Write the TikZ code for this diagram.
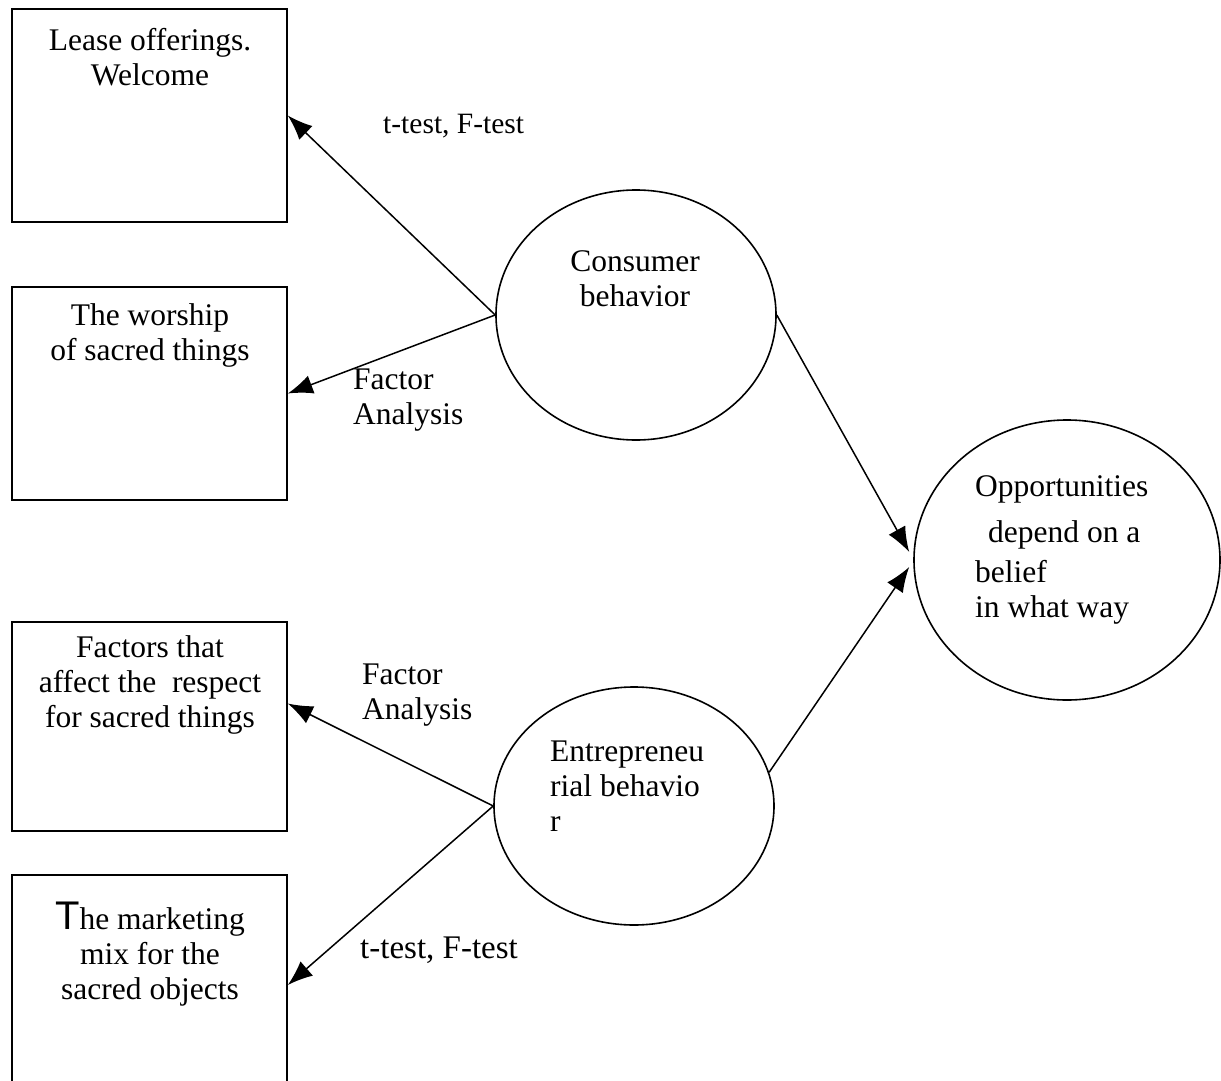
\documentclass[tikz,border=0pt]{standalone}
\usepackage{fontspec}
\setmainfont{Liberation Serif}
\newfontfamily\bigTfont{Liberation Sans}
\usetikzlibrary{shapes.geometric,arrows.meta,calc}
\begin{document}
\begin{tikzpicture}[x=1pt,y=-1pt,
  every node/.style={font=\fontsize{31.5}{35}\selectfont},
  boxnode/.style={draw,line width=1.6pt,rectangle,minimum width=275pt,inner sep=0pt},
  ellnode/.style={draw,line width=1.6pt,ellipse,inner sep=0pt},
  txt/.style={inner sep=0pt,align=center},
  ltxt/.style={inner sep=0pt,align=left,anchor=west},
  conn/.style={line width=1.5pt,-{Latex[length=25pt,width=19pt]}}]
\useasboundingbox (0,0) rectangle (1221,1081);
% boxes
\node[boxnode,minimum height=213pt] (b1) at (149.5,115.5) {};
\node[boxnode,minimum height=213pt] (b2) at (149.5,393.5) {};
\node[boxnode,minimum height=209pt] (b3) at (149.5,726.5) {};
\node[boxnode,minimum height=220pt] (b4) at (149.5,985) {};
% ellipses
\node[ellnode,minimum width=280pt,minimum height=250pt] (c1) at (636,315) {};
\node[ellnode,minimum width=280pt,minimum height=238pt] (c2) at (634,806) {};
\node[ellnode,minimum width=306pt,minimum height=280pt] (o) at (1067,560) {};
% box texts
\node[txt] (b1t) at (150,57) {Lease offerings.\\Welcome};
\node[txt] (b2t) at (150,335) {The worship\\of sacred things};
\node[txt] (b3t) at (150,685) {Factors that\\affect the \ respect\\for sacred things};
\node[txt] (b4t) at (150,954) {{\bigTfont\fontsize{40}{35}\selectfont T}he marketing\\mix for the\\sacred objects};
% ellipse texts
\node[txt] (c1t) at (635,279) {Consumer\\behavior};
\node[ltxt] (c2t) at (550,786) {Entrepreneu\\rial behavio\\r};
\node[ltxt] (ot) at (975,550) {Opportunities\\[11pt]\hspace{13pt}depend on a\\[5pt]belief\\in what way};
% connector labels
\node[ltxt,font=\fontsize{29.5}{34}\selectfont] (l1) at (383,126) {t-test, F-test};
\node[ltxt] (l2) at (353,400) {Factor\\Analysis};
\node[ltxt] (l3) at (362,695) {Factor\\Analysis};
\node[ltxt,font=\fontsize{33}{36}\selectfont] (l4) at (360,950) {t-test, F-test};
% connectors
\draw[conn] (c1.west) -- (b1.east);
\draw[conn] (c1.west) -- (b2.east);
\draw[conn] (c2.west) -- ($(b3.east)+(0,-23)$);
\draw[conn] (c2.west) -- (b4.east);
\coordinate (oin1) at ($(o.west)+(-4,-8)$);
\coordinate (oin2) at ($(o.west)+(-4,7)$);
\draw[conn] (c1.east) -- (oin1);
\draw[conn] (c2.14) -- (oin2);
\end{tikzpicture}
\end{document}
